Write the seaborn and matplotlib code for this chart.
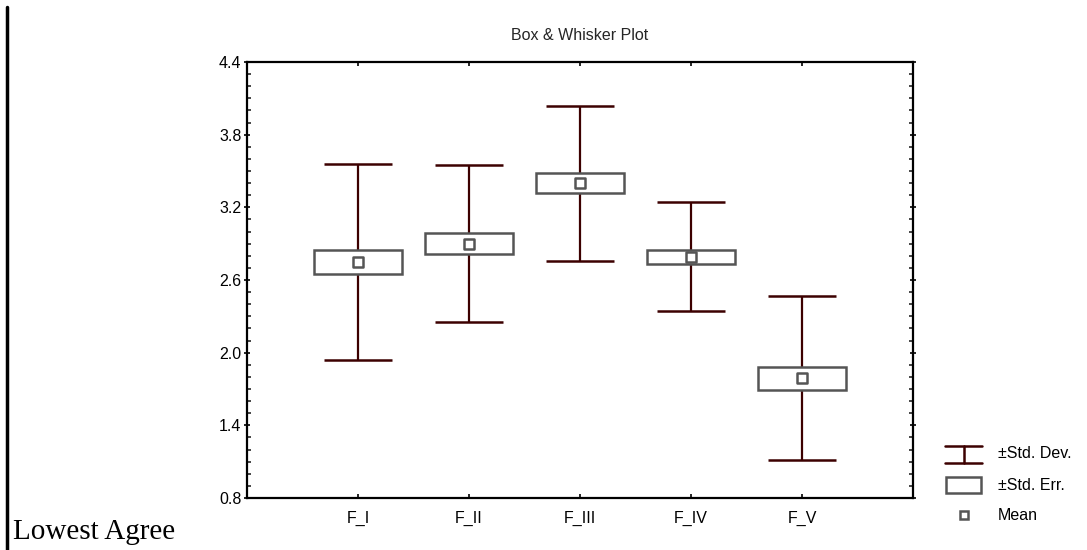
import numpy as np
import pandas as pd
import matplotlib
matplotlib.use("Agg")
import matplotlib.pyplot as plt
from matplotlib.patches import Rectangle
from matplotlib.lines import Line2D
from matplotlib.ticker import MultipleLocator, FixedLocator
import seaborn as sns

# Factor scores: mean, standard deviation and standard error
factors = ["F_I", "F_II", "F_III", "F_IV", "F_V"]
means = [2.75, 2.90, 3.40, 2.79, 1.79]
std_dev = [0.81, 0.65, 0.64, 0.45, 0.68]
std_err = [0.10, 0.084, 0.083, 0.058, 0.095]

y_ticks = [0.8, 1.4, 2.0, 2.6, 3.2, 3.8, 4.4]

sns.set_theme(style="white")
plt.rcParams["font.family"] = ["Liberation Sans", "DejaVu Sans"]

df = pd.DataFrame({"factor": factors, "mean": means, "sd": std_dev, "se": std_err})
df["pos"] = np.arange(len(df))

whisker_col = "#3c0000"
box_col = "#555555"
fs = 11.5

fig = plt.figure(figsize=(10.87, 5.5), dpi=100)
ax = fig.add_axes([247 / 1087, 52 / 550, 666 / 1087, 436 / 550])

# whiskers: mean ± SD with caps
ax.errorbar(df["pos"], df["mean"], yerr=df["sd"], fmt="none",
            ecolor=whisker_col, elinewidth=1.6, capsize=24.5, capthick=1.8, zorder=1)
# boxes: mean ± SE
ax.bar(df["pos"], 2 * df["se"], bottom=df["mean"] - df["se"], width=0.8,
       facecolor="white", edgecolor=box_col, linewidth=1.8, zorder=2)
# means
sns.scatterplot(data=df, x="pos", y="mean", marker="s", s=45, facecolor="white",
                edgecolor=box_col, linewidth=1.8, ax=ax, zorder=3, legend=False)

ax.set_xlim(-1, 5)
ax.set_ylim(0.8, 4.4)
ax.set_xlabel("")
ax.set_ylabel("")
ax.xaxis.set_major_locator(FixedLocator(df["pos"]))
ax.set_xticklabels(factors)
ax.yaxis.set_major_locator(FixedLocator(y_ticks))
ax.set_yticklabels([f"{v:.1f}" for v in y_ticks])
ax.yaxis.set_minor_locator(MultipleLocator(0.1))

for s in ax.spines.values():
    s.set_color("black")
    s.set_linewidth(1.6)

ax.tick_params(axis="y", which="major", labelsize=fs, colors="black",
               length=4, width=1.2, direction="inout", pad=2, left=True, right=True)
ax.tick_params(axis="y", which="minor", length=3, width=1.2, direction="in",
               left=True, right=True)
ax.tick_params(axis="x", which="major", labelsize=fs, colors="black", bottom=True,
               top=True, direction="in", length=3, width=1.2, pad=9)
ax.set_title("Box & Whisker Plot", fontsize=fs, pad=16)

# legend drawn in pixel coordinates on the figure
def px(x, y):
    return x / 1087, 1 - y / 550

# ±Std. Dev icon
for (x0, y0), (x1, y1) in [((945, 446), (982, 446)), ((945, 463), (982, 463)),
                           ((963.5, 446), (963.5, 463))]:
    a, b = px(x0, y0)
    c, d = px(x1, y1)
    fig.add_artist(Line2D([a, c], [b, d], color=whisker_col, lw=1.8))
# ±Std. Err. icon
bx, by = px(946, 493)
fig.add_artist(Rectangle((bx, by), 35 / 1087, 16 / 550, facecolor="white",
                         edgecolor=box_col, lw=1.8, transform=fig.transFigure))
# Mean icon
mx, my = px(963.5, 515)
fig.add_artist(Line2D([mx], [my], marker="s", markersize=6, markerfacecolor="white",
                      markeredgecolor=box_col, markeredgewidth=1.8, lw=0))
for label, yy in [("±Std. Dev.", 453), ("±Std. Err.", 485), ("Mean", 515)]:
    tx, ty = px(998, yy)
    fig.text(tx, ty, label, fontsize=fs, va="center", ha="left", color="black")

# side annotation
lx0, ly0 = px(7, 7)
lx1, ly1 = px(7, 550)
fig.add_artist(Line2D([lx0, lx1], [ly0, ly1], color="black", lw=2.5))
tx, ty = px(13, 539)
fig.text(tx, ty, "Lowest Agree", fontsize=21, family=["Liberation Serif", "DejaVu Serif"],
         va="baseline", ha="left", color="black")

fig.savefig("out.png", dpi=100, facecolor="white")
